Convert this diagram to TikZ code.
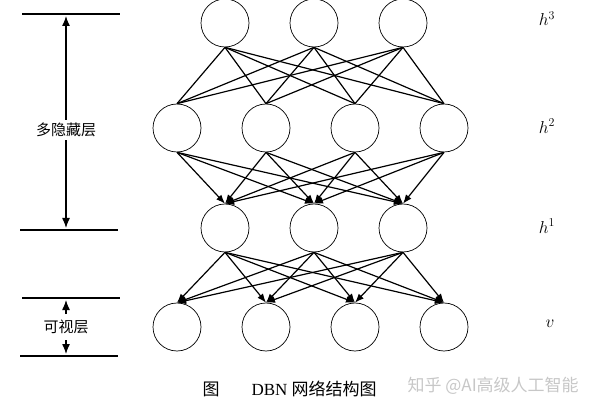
\documentclass[tikz,border=0pt]{standalone}
\usepackage{fontspec}
\usepackage{amsmath}
\usetikzlibrary{arrows.meta}
\setmainfont{Liberation Serif}
\newfontfamily\cjk{Noto Sans CJK SC}
\definecolor{color_mark}{rgb}{0.78,0.78,0.78}

\begin{document}
\begin{tikzpicture}[x=1pt,y=-1pt,
	neuron/.style={circle, draw, line width=0.7pt, minimum size=48pt, inner sep=0pt},
	link/.style={line width=1.2pt},
	flow/.style={line width=1.2pt, -{Latex[length=9pt,width=7pt]}},
	level/.style={line width=2.4pt},
	scalearrow/.style={line width=1.3pt, -{Latex[length=10pt,width=8pt]}}]
	\useasboundingbox (0,0) rectangle (600,414);
	
	% Neurones par couche
	\foreach \x [count=\i] in {225,314,403}
		\node[neuron] (h3\i) at (\x,23) {};
	\foreach \x [count=\i] in {177,266,355,444}
		\node[neuron] (h2\i) at (\x,128) {};
	\foreach \x [count=\i] in {225,314,403}
		\node[neuron] (h1\i) at (\x,228) {};
	\foreach \x [count=\i] in {177,266,355,444}
		\node[neuron] (v\i) at (\x,327) {};
	
	% Connexions h3 - h2 (sans direction)
	\foreach \i in {1,2,3}
		\foreach \j in {1,2,3,4}
			\draw[link] (h3\i.south) -- (h2\j.north);
	
	% Connexions h2 -> h1
	\foreach \i in {1,2,3,4}
		\foreach \j in {1,2,3}
			\draw[flow] (h2\i.south) -- (h1\j.north);
	
	% Connexions h1 -> v
	\foreach \i in {1,2,3}
		\foreach \j in {1,2,3,4}
			\draw[flow] (h1\i.south) -- (v\j.north);
	
	% Traits horizontaux a gauche
	\coordinate (topL) at (22,14);   \coordinate (topR) at (120,14);
	\coordinate (midL) at (20,230);  \coordinate (midR) at (118,230);
	\coordinate (visL) at (22,298);  \coordinate (visR) at (120,298);
	\coordinate (botL) at (20,356);  \coordinate (botR) at (118,356);
	\draw[level] (topL) -- (topR);
	\draw[level] (midL) -- (midR);
	\draw[level] (visL) -- (visR);
	\draw[level] (botL) -- (botR);
	
	% Couches cachees
	\node[fill=white, inner sep=3pt] (hidden) at (66,130) {\fontsize{15}{17}\selectfont\cjk 多隐藏层};
	\coordinate (hidTop) at (66,16);
	\coordinate (hidBot) at (66,228);
	\draw[scalearrow] (hidden.north) -- (hidTop);
	\draw[scalearrow] (hidden.south) -- (hidBot);
	
	% Couche visible
	\node[inner sep=1pt] (visible) at (66,327) {\fontsize{15}{17}\selectfont\cjk 可视层};
	\coordinate (visTop) at (66,300);
	\coordinate (visBot) at (66,354);
	\draw[scalearrow] (66,314) -- (visTop);
	\draw[scalearrow] (66,340) -- (visBot);
	
	% Noms des couches
	\node (lh3) at (547,19) {\fontsize{17}{20}\selectfont$h^3$};
	\node (lh2) at (547,126) {\fontsize{17}{20}\selectfont$h^2$};
	\node (lh1) at (547,226) {\fontsize{17}{20}\selectfont$h^1$};
	\node (lv) at (550,324) {\fontsize{17}{20}\selectfont$v$};
	
	% Legende
	\node[anchor=west] (capA) at (199,389) {\fontsize{17}{20}\selectfont\cjk 图};
	\node[anchor=west] (capB) at (248,389) {\fontsize{17}{20}\selectfont DBN {\cjk 网络结构图}};
	\node[anchor=west, text=color_mark] (mark) at (404,386) {\fontsize{17}{20}\selectfont\cjk 知乎 @AI高级人工智能};
\end{tikzpicture}
\end{document}
